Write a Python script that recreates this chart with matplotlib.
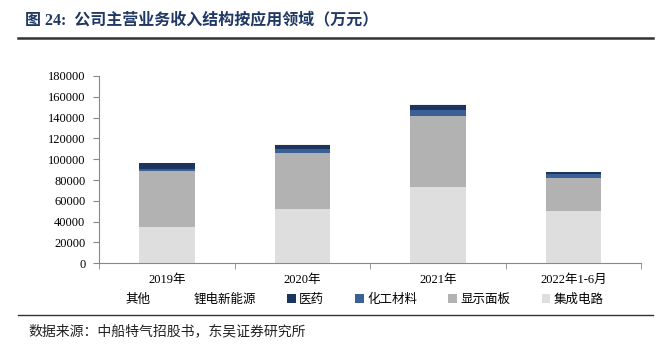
import matplotlib
matplotlib.use("Agg")
import matplotlib.pyplot as plt
import numpy as np
from matplotlib.patches import Patch

plt.rcParams['font.family'] = ['Liberation Serif', 'Noto Sans CJK SC', 'DejaVu Sans']

# data (万元)
years = ['2019年', '2020年', '2021年', '2022年1-6月']
ic = [34500, 52500, 73000, 50500]        # 集成电路
panel = [54100, 53500, 68600, 31600]     # 显示面板
chem = [2200, 4100, 5400, 3900]          # 化工材料
pharma = [5200, 4000, 5300, 1600]        # 医药
battery = [300, 300, 300, 200]           # 锂电新能源
other = [400, 300, 400, 300]             # 其他

series = [('集成电路', ic, '#DEDEDE'),
          ('显示面板', panel, '#B2B2B2'),
          ('化工材料', chem, '#3A6096'),
          ('医药', pharma, '#1C355E'),
          ('锂电新能源', battery, '#F2F2F2'),
          ('其他', other, '#FAFAFA')]

fig = plt.figure(figsize=(6.7, 3.51), dpi=100)
ax = fig.add_axes([0.148, 0.25, 0.809, 0.5335])

x = np.arange(len(years))
bottom = np.zeros(len(years))
for name, vals, col in series:
    ax.bar(x, vals, 0.41, bottom=bottom, color=col, label=name)
    bottom += np.array(vals)

ax.set_xlim(-0.5, len(years) - 0.5)
ax.set_ylim(0, 180000)
ax.set_yticks(np.arange(0, 180001, 20000))
ax.set_xticks(x)
ax.set_xticklabels(years, fontsize=9)
ax.set_xticks(np.arange(-0.5, len(years)), minor=True)
ax.tick_params(axis='x', which='major', length=0, pad=8)
ax.tick_params(axis='x', which='minor', length=4, color='#888888', direction='out')
ax.tick_params(axis='y', labelsize=9, length=4, color='#888888', pad=6)
for s in ['top', 'right']:
    ax.spines[s].set_visible(False)
for s in ['left', 'bottom']:
    ax.spines[s].set_color('#888888')

# legend order as in the picture
handles = []
for name in ['其他', '锂电新能源', '医药', '化工材料', '显示面板', '集成电路']:
    col = [c for n, v, c in series if n == name][0]
    if name in ('其他', '锂电新能源'):
        col = 'white'
    handles.append(Patch(facecolor=col, edgecolor='none', label=name))
fig.legend(handles=handles, loc='center', bbox_to_anchor=(0.535, 0.145), ncol=6,
           frameon=False, fontsize=9, handlelength=0.7, handleheight=0.7,
           handletextpad=0.25, columnspacing=2.5)

fig.text(0.037, 0.943, '图 24:  公司主营业务收入结构按应用领域（万元）', fontsize=11.5,
         fontweight='bold', color='#1F3864', va='center')
fig.add_artist(plt.Line2D([0.027, 0.975], [0.893, 0.893], color='#333333', lw=1.8))
fig.add_artist(plt.Line2D([0.027, 0.975], [0.103, 0.103], color='#333333', lw=1.0))
fig.text(0.042, 0.057, '数据来源：中船特气招股书，东吴证券研究所', fontsize=10,
         color='#222222', va='center')

fig.savefig('out.png', dpi=100)
